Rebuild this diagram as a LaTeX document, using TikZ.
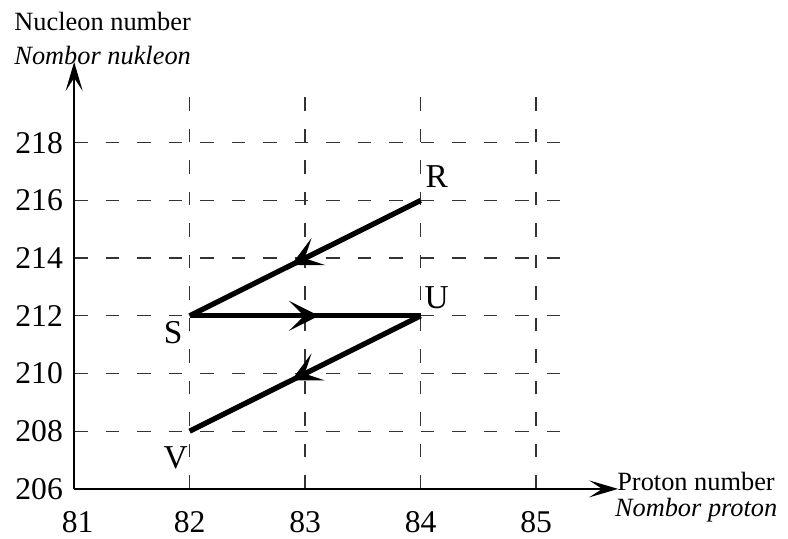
\documentclass[tikz,border=0pt]{standalone}
\usepackage{fontspec}
\setmainfont{Liberation Serif}
\usetikzlibrary{arrows.meta,decorations.markings}

\begin{document}
\begin{tikzpicture}[x=2.31cm,y=0.577cm,>=Stealth,
  gridline/.style={black!80,line width=0.75pt,dash pattern=on 0.27cm off 0.36cm},
  axisline/.style={line width=0.8pt,-{Stealth[length=0.58cm,width=0.34cm,inset=0.26cm]}},
  decay/.style={line width=3pt,postaction={decorate},
    decoration={markings,mark=at position 0.56 with {\arrow{Stealth[length=0.6cm,width=0.6cm,inset=0.3cm]}}}},
  ticklabel/.style={font=\fontsize{18}{20}\selectfont,inner sep=0pt},
  pointlabel/.style={font=\fontsize{19}{21}\selectfont,inner sep=0pt},
  axistitle/.style={font=\fontsize{15}{17}\selectfont,inner sep=0pt,anchor=west}]
\useasboundingbox (80.359,204.267) rectangle (87.182,222.95);
% grid
\foreach \p in {82,...,85}
  \draw[gridline] (\p,206) -- (\p,220);
\foreach \n in {208,210,...,218}
  \draw[gridline] (81,\n) -- (85.3,\n);
% axes
\coordinate (O) at (81,206);
\coordinate (ytip) at (81,220.8);
\coordinate (xtip) at (85.71,206);
\draw[axisline] (O) -- (ytip);
\draw[axisline] (O) -- (xtip);
\node[axistitle] (ytitle) at (80.48,222.19) {Nucleon number};
\node[axistitle] (ytitleit) at (80.48,221.04) {\itshape Nombor nukleon};
\node[axistitle] (xtitle) at (85.70,206.24) {Proton number};
\node[axistitle] (xtitleit) at (85.68,205.27) {\itshape Nombor proton};
% tick labels
\foreach \n in {206,208,...,218}
  \node[ticklabel,anchor=east] (n\n) at (80.905,\n) {\n};
\node[ticklabel] (p81) at (81.03,204.85) {81};
\foreach \p in {82,...,85}
  \node[ticklabel] (p\p) at (\p,204.85) {\p};
% decay chain
\coordinate (R) at (84,216);
\coordinate (S) at (82,212);
\coordinate (U) at (84,212);
\coordinate (V) at (82,208);
\draw[decay] (R) -- (S);
\draw[decay] (S) -- (U);
\draw[decay] (U) -- (V);
\node[pointlabel] (lR) at (84.14,216.81) {R};
\node[pointlabel] (lU) at (84.14,212.62) {U};
\node[pointlabel] (lS) at (81.857,211.41) {S};
\node[pointlabel] (lV) at (81.88,207.07) {V};
\end{tikzpicture}
\end{document}
